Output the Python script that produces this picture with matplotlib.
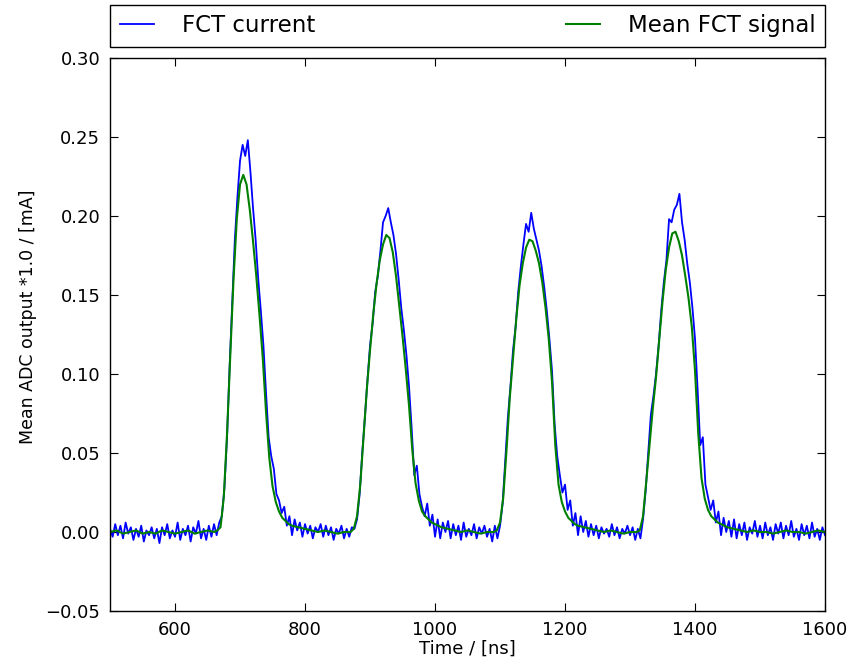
import numpy as np
import matplotlib
matplotlib.use("Agg")
import matplotlib.pyplot as plt

# ---------------- data ----------------
# FCT current (blue), sampled every 4 ns, in segments
fct_seg_start = [500, 672, 876, 1100, 1320]
fct_seg_a = [0.002, -0.003, 0.005, -0.002, 0.004, -0.004, 0.006, -0.001, 0.003, -0.005,
             0.002, -0.003, 0.004, -0.006, 0.001, -0.002, 0.003, -0.004, 0.002, -0.007,
             0.003, -0.002, 0.005, -0.004, 0.001, -0.003, 0.006, -0.005, 0.002, -0.002,
             0.004, -0.006, 0.003, -0.001, 0.007, -0.004, 0.002, -0.005, 0.004, -0.003,
             0.005, -0.002, 0.006]
fct_seg_b = [0.010, 0.028, 0.060, 0.105, 0.145, 0.185, 0.212, 0.235, 0.245, 0.238,
             0.248, 0.228, 0.205, 0.185, 0.160, 0.140, 0.118, 0.088, 0.060, 0.048,
             0.040, 0.024, 0.020, 0.012, 0.016, 0.004, 0.010, -0.002, 0.008, 0.001,
             0.006, -0.003, 0.005, -0.001, 0.004, -0.004, 0.003, 0.000, 0.005, -0.003,
             0.004, -0.002, 0.003, -0.005, 0.002, -0.001, 0.004, -0.004, 0.002, -0.003,
             0.003]
fct_seg_c = [0.002, 0.008, 0.024, 0.050, 0.072, 0.096, 0.118, 0.132, 0.152, 0.162,
             0.178, 0.196, 0.200, 0.205, 0.196, 0.188, 0.176, 0.160, 0.142, 0.128,
             0.112, 0.092, 0.066, 0.036, 0.042, 0.024, 0.016, 0.010, 0.018, 0.004,
             0.011, -0.003, 0.008, -0.004, 0.006, 0.000, 0.007, -0.004, 0.005, -0.002,
             0.004, -0.005, 0.006, -0.003, 0.002, -0.002, 0.005, -0.004, 0.003, -0.001,
             0.004, -0.003, 0.002, -0.006, 0.004, -0.004]
fct_seg_d = [0.004, 0.018, 0.045, 0.072, 0.092, 0.115, 0.130, 0.152, 0.168, 0.182,
             0.195, 0.190, 0.202, 0.192, 0.185, 0.178, 0.168, 0.155, 0.140, 0.122,
             0.102, 0.068, 0.048, 0.036, 0.025, 0.030, 0.014, 0.020, 0.004, 0.012,
             -0.002, 0.010, 0.000, 0.007, -0.003, 0.005, -0.002, 0.004, -0.004, 0.003,
             -0.001, 0.002, -0.003, 0.005, -0.002, 0.003, -0.004, 0.002, -0.001, 0.004,
             -0.002, 0.003, -0.005, 0.002, -0.004]
fct_seg_e = [0.008, 0.026, 0.050, 0.074, 0.086, 0.100, 0.118, 0.140, 0.158, 0.172,
             0.198, 0.196, 0.204, 0.207, 0.214, 0.196, 0.185, 0.170, 0.158, 0.142,
             0.122, 0.090, 0.055, 0.060, 0.030, 0.022, 0.014, 0.020, 0.006, 0.013,
             -0.002, 0.009, 0.000, 0.007, -0.003, 0.008, -0.004, 0.005, -0.002, 0.006,
             -0.005, 0.003, -0.001, 0.007, -0.003, 0.004, -0.004, 0.006, -0.002, 0.003,
             -0.005, 0.005, -0.001, 0.006, -0.004, 0.004, -0.002, 0.007, -0.003, 0.002,
             -0.005, 0.005, -0.002, 0.004, -0.004, 0.006, -0.003, 0.002, -0.005, 0.003,
             -0.002]
fct_step = 4

# Mean FCT signal (green)
mean_time = [500, 510, 520, 530, 540, 550, 560, 570, 580, 590, 600, 610, 620, 630, 640, 650, 660, 665,
             670, 675, 680, 685, 690, 695, 700, 705, 710, 715, 720, 725, 730, 735, 740, 745, 750, 755,
             760, 765, 770, 775, 780, 790, 800, 810, 820, 830, 840, 850, 860, 870,
             875, 880, 885, 890, 895, 900, 905, 910, 915, 920, 925, 930, 935, 940, 945, 950, 955,
             960, 965, 970, 975, 980, 985, 990, 995, 1000, 1010, 1020, 1030, 1040, 1050, 1060, 1070,
             1080, 1090,
             1095, 1100, 1105, 1110, 1115, 1120, 1125, 1130, 1135, 1140, 1145, 1150, 1155, 1160,
             1165, 1170, 1175, 1180, 1185, 1190, 1195, 1200, 1205, 1210, 1215, 1220, 1230, 1240,
             1250, 1260, 1270, 1280, 1290, 1300, 1310,
             1315, 1320, 1325, 1330, 1335, 1340, 1345, 1350, 1355, 1360, 1365, 1370, 1375, 1380,
             1385, 1390, 1395, 1400, 1405, 1410, 1415, 1420, 1425, 1430, 1435, 1440, 1450, 1460,
             1470, 1480, 1490, 1500, 1510, 1520, 1530, 1540, 1550, 1560, 1570, 1580, 1590, 1600]
mean_signal = [0.000, 0.001, -0.001, 0.000, 0.001, -0.001, 0.000, -0.001, 0.001, 0.000, -0.001, 0.000, 0.001, -0.001, 0.000, 0.001, 0.000, 0.001,
               0.003, 0.022, 0.062, 0.112, 0.160, 0.198, 0.220, 0.226, 0.220, 0.204, 0.184, 0.162, 0.137, 0.110, 0.076, 0.047, 0.029, 0.019,
               0.013, 0.009, 0.007, 0.005, 0.004, 0.003, 0.002, 0.001, 0.000, 0.001, 0.000, -0.001, 0.000, 0.000,
               0.002, 0.010, 0.030, 0.060, 0.090, 0.115, 0.138, 0.157, 0.172, 0.182, 0.188, 0.186, 0.177, 0.162, 0.143, 0.124, 0.103,
               0.080, 0.052, 0.031, 0.020, 0.013, 0.010, 0.008, 0.006, 0.005, 0.003, 0.002, 0.001, 0.000, 0.001, 0.000, -0.001,
               0.000, 0.000,
               0.001, 0.006, 0.022, 0.052, 0.085, 0.110, 0.135, 0.156, 0.170, 0.180, 0.185, 0.184, 0.178, 0.170,
               0.158, 0.142, 0.122, 0.095, 0.055, 0.030, 0.019, 0.013, 0.009, 0.007, 0.005, 0.004, 0.003, 0.002,
               0.001, 0.000, 0.001, 0.000, -0.001, 0.000, 0.000,
               0.001, 0.010, 0.032, 0.055, 0.078, 0.098, 0.122, 0.146, 0.166, 0.180, 0.189, 0.190, 0.184, 0.175,
               0.162, 0.148, 0.130, 0.102, 0.062, 0.034, 0.021, 0.014, 0.010, 0.008, 0.006, 0.005, 0.003, 0.002,
               0.001, 0.000, 0.001, 0.000, 0.000, -0.001, 0.000, 0.001, 0.000, 0.000, -0.001, 0.000, 0.001, 0.000]

x_ticks = [600, 800, 1000, 1200, 1400, 1600]
y_ticks = [-0.05, 0.00, 0.05, 0.10, 0.15, 0.20, 0.25, 0.30]

# ---------------- assemble ----------------
segs = [fct_seg_a, fct_seg_b, fct_seg_c, fct_seg_d, fct_seg_e]
fct_t = []
fct_v = []
for s0, seg in zip(fct_seg_start, segs):
    fct_t.extend([s0 + fct_step * k for k in range(len(seg))])
    fct_v.extend(seg)

# ---------------- plot ----------------
fig = plt.figure(figsize=(8.63, 6.61), dpi=100)
ax = fig.add_axes([0.1275, 0.0756, 0.8285, 0.8367])

ax.plot(fct_t, fct_v, color="#0000ff", lw=1.3, label="FCT current")
ax.plot(mean_time, mean_signal, color="#008000", lw=1.5, label="Mean FCT signal")

ax.set_xlim(500, 1600)
ax.set_ylim(-0.05, 0.30)
ax.set_xticks(x_ticks)
ax.set_yticks(y_ticks)
ax.set_yticklabels(["\u22120.05"] + ["%.2f" % v for v in y_ticks[1:]])
ax.tick_params(direction="in", top=True, right=True, labelsize=13, length=6, pad=7)
ax.set_xlabel("Time / [ns]", fontsize=13, labelpad=1)
ax.set_ylabel("Mean ADC output *1.0 / [mA]", fontsize=12.5, labelpad=8)
ax.yaxis.set_label_coords(-0.102, 0.532)
for sp in ax.spines.values():
    sp.set_linewidth(1.0)

leg = ax.legend(bbox_to_anchor=(0.0, 1.02, 1.0, 0.076), loc="lower left", mode="expand",
                ncol=2, borderaxespad=0.0, fontsize=16.5, fancybox=False, framealpha=1,
                edgecolor="black", handlelength=1.5, handletextpad=1.2, borderpad=0.42)
leg.get_frame().set_linewidth(1.0)

fig.savefig("out.png", dpi=100)
